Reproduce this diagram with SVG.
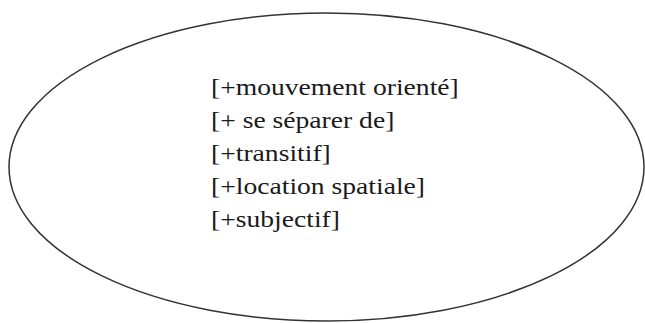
<svg xmlns="http://www.w3.org/2000/svg" width="645" height="323" viewBox="0 0 645 323">
<style>
.t{font-family:"Liberation Serif","Times New Roman",serif;font-size:24px;fill:#1a1a1a}
</style>
<rect width="645" height="323" fill="#fff"/>
<g id="ellipse">
<ellipse cx="326.5" cy="167" rx="317.5" ry="154" fill="none" stroke="#333" stroke-width="1.5"/>
</g>
<g id="labels" transform="translate(211,0) scale(1.15,1)">
<text class="t" x="0" y="95">[+mouvement orienté]</text>
<text class="t" x="0" y="128">[+ se séparer de]</text>
<text class="t" x="0" y="161">[+transitif]</text>
<text class="t" x="0" y="194">[+location spatiale]</text>
<text class="t" x="0" y="227">[+subjectif]</text>
</g>
</svg>
